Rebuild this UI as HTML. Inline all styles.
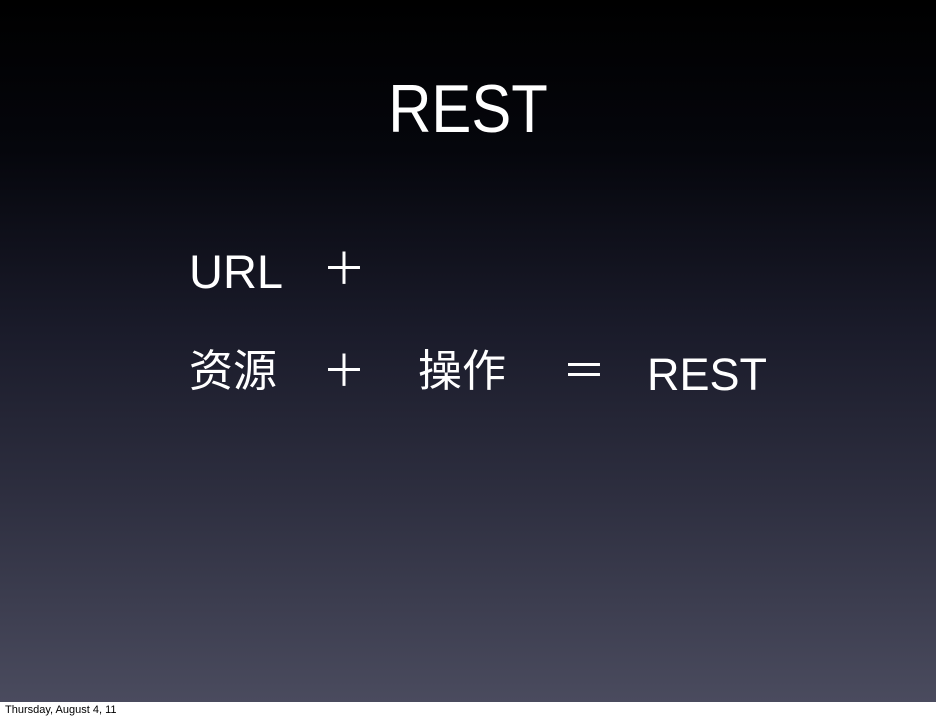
<!DOCTYPE html>
<html><head><meta charset="utf-8"><style>
html,body{margin:0;padding:0;}
body{width:936px;height:720px;position:relative;overflow:hidden;background:#fff;font-family:"Liberation Sans","Noto Sans CJK SC",sans-serif;}
#slide{position:absolute;left:0;top:0;width:936px;height:702px;background:linear-gradient(to bottom,#000 0px,#05060c 150px,#1a1b2a 330px,#2e2f40 500px,#4a4b5e 702px);}
.t{position:absolute;color:#fff;white-space:nowrap;line-height:1;}
#foot{position:absolute;left:5px;top:704px;font-size:11px;color:#000;}
</style></head><body>
<div id="slide">
<div class="t" style="left:0;width:936px;text-align:center;top:75px;font-size:68px;transform:scaleX(0.88);">REST</div>
<div class="t" style="left:189px;top:248px;font-size:47px;">URL</div>
<div class="t" style="left:322px;top:248px;font-size:44px;">＋</div>
<div class="t" style="left:189px;top:350px;font-size:44px;">资源</div>
<div class="t" style="left:322px;top:350px;font-size:44px;">＋</div>
<div class="t" style="left:418px;top:350px;font-size:44px;">操作</div>
<div class="t" style="left:562px;top:350px;font-size:44px;">＝</div>
<div class="t" style="left:647px;top:352px;font-size:45px;">REST</div>
</div>
<div id="foot">Thursday, August 4, 11</div>
</body></html>
